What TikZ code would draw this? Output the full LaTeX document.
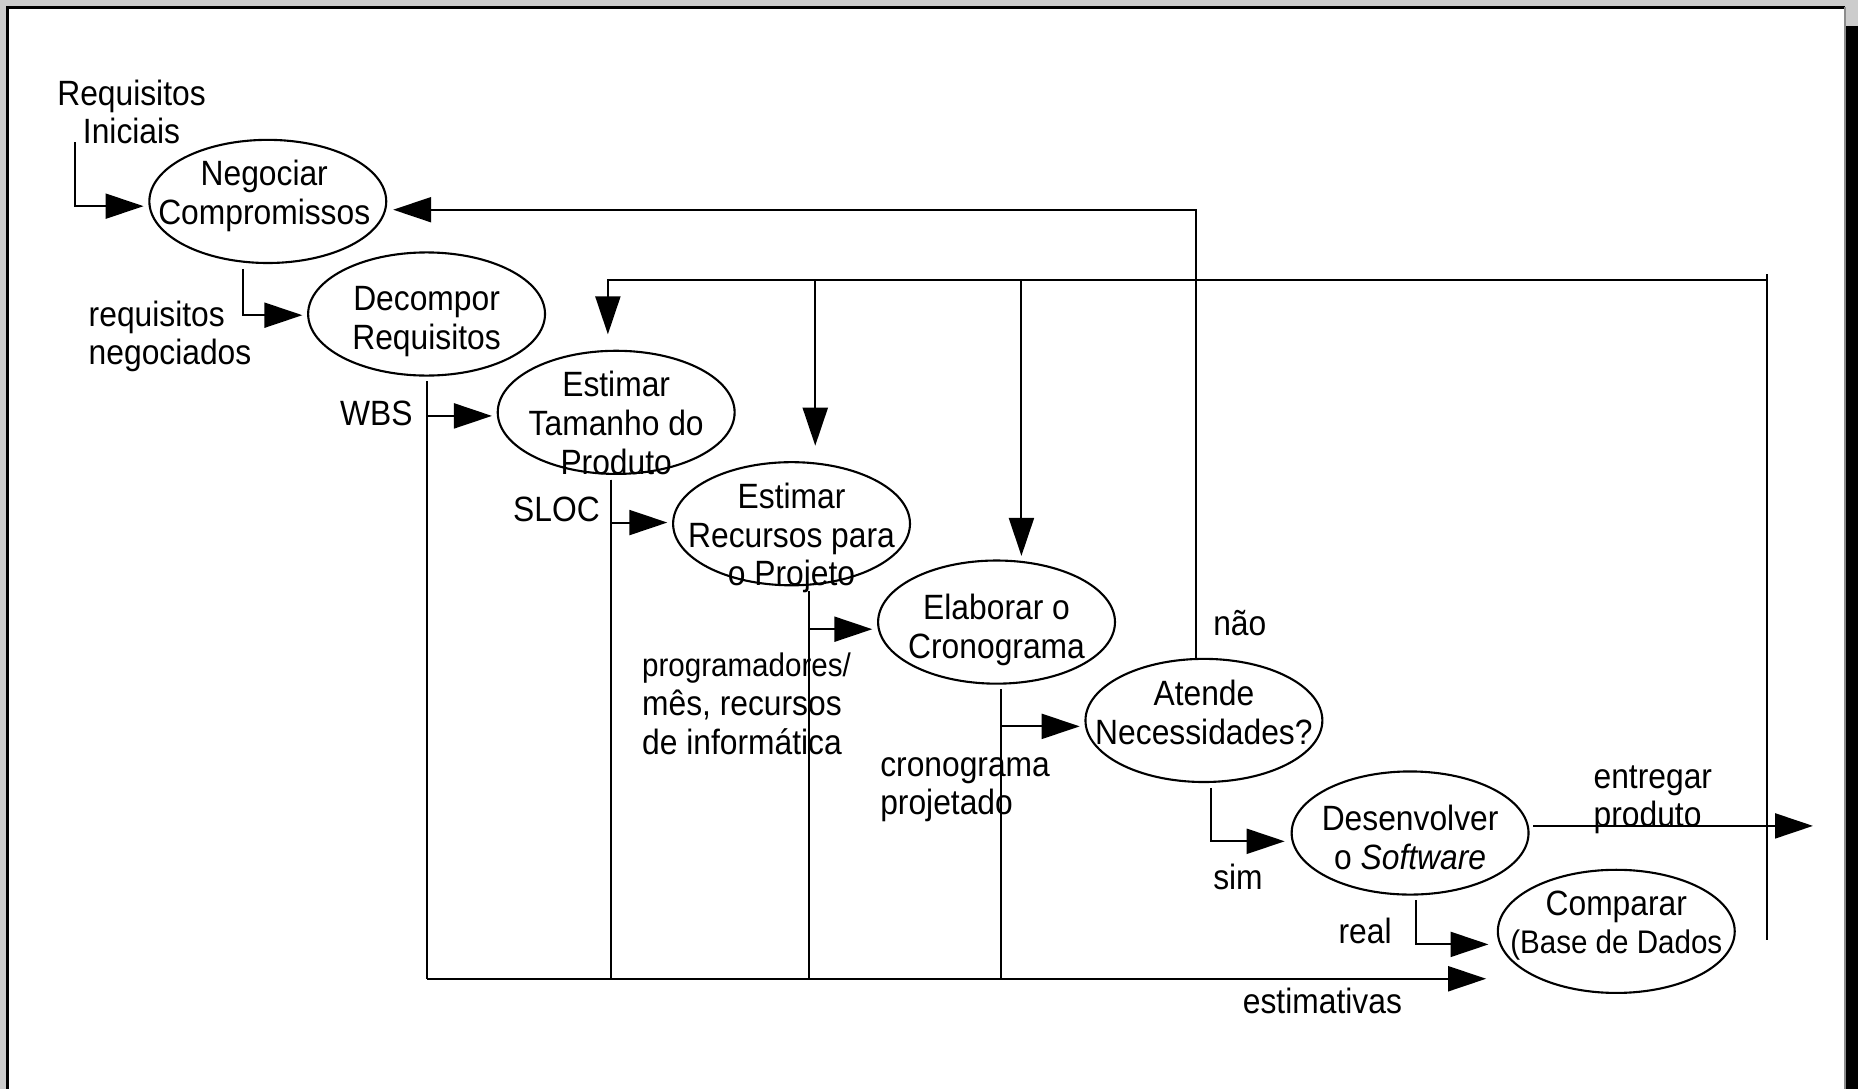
\documentclass[tikz,border=0pt]{standalone}
\usepackage{fontspec}
\setmainfont{Liberation Sans}[FakeStretch=0.905]
\usetikzlibrary{arrows.meta,calc,shapes}
\newcommand{\pxu}{0.01185cm}

\begin{document}
\begin{tikzpicture}[x=\pxu,y=-\pxu,semithick,font=\fontsize{10}{11}\selectfont,
        proc/.style={draw,ellipse,minimum width=2.37cm,minimum height=1.232cm,inner sep=0pt},
        every label/.style={align=center,inner sep=0pt},
        txt/.style={align=left,inner sep=0pt},
        arr/.style={-{Triangle[length=3.8mm,width=2.5mm]}}]
        \useasboundingbox (0,0) rectangle (1568,919);
        % page frame
        \fill[black!20] (0,0) rectangle (1568,919);
        \fill[white] (6,6) rectangle (1557,919);
        \draw[line width=0.8pt] (6.5,919) -- (6.5,6.5) -- (1557,6.5);
        \draw[black!45,line width=0.3pt] (1557,6) -- (1557,919);
        \fill (1558,22) rectangle (1568,919);

        \node[proc,label={[xshift=-3*\pxu,yshift=4.5*\pxu]center:Negociar\\Compromissos}] (Negociar) at (226,170) {};
        \node[proc,label={[yshift=-6.5*\pxu]center:Decompor\\Requisitos}] (Decompor) at (360,265) {};
        \node[proc,label={[yshift=-9*\pxu]center:Estimar\\Tamanho do\\Produto}] (Tamanho) at (520,348) {};
        \node[proc,label={[yshift=-12*\pxu]center:Estimar\\Recursos para\\o Projeto}] (Recursos) at (668,442) {};
        \node[proc,label={[yshift=-6.5*\pxu]center:Elaborar o\\Cronograma}] (Cronograma) at (841,525) {};
        \node[proc,label={[yshift=6.5*\pxu]center:Atende\\Necessidades?}] (Atende) at (1016,608) {};
        \node[proc,label={[yshift=-3.5*\pxu]center:Desenvolver\\o \textit{Software}}] (Desenvolver) at (1190,703) {};
        \node[proc,label={[yshift=5*\pxu]center:Comparar\\{\fontsize{9.3}{11}\selectfont(Base de Dados}}] (Comparar) at (1364,786) {};

        \node[txt,align=center] (lreqini) at (111,94.5) {Requisitos\\Iniciais};
        \node[txt,anchor=west] (lreqneg) at (74,284) {requisitos\\negociados};
        \node[txt,anchor=east] (lwbs) at (349,349) {WBS};
        \node[txt,anchor=east] (lsloc) at (507,430) {SLOC};
        \node[txt,anchor=west] (lprog) at (541,594) {{\fontsize{9.3}{11}\selectfont programadores/}\\mês, recursos\\de informática};
        \node[txt,anchor=west] (lcron) at (742,666.5) {cronograma\\projetado};
        \node[txt,anchor=west] (lnao) at (1023,526) {não};
        \node[txt,anchor=west] (lsim) at (1023,740) {sim};
        \node[txt,anchor=west] (lentr) at (1344,675) {entregar\\produto};
        \node[txt] (lreal) at (1152,786) {real};
        \node[txt] (lest) at (1116,845) {estimativas};

        \coordinate (ini) at (63,120);
        \coordinate (est) at (360,826);
        \coordinate (fb) at (1491,793);
        \coordinate (fbtop) at (1491,236);
        \coordinate (out) at (1530,697);

        \draw[arr] (ini) |- ($(Negociar.west)+(-4,4)$);
        \draw[arr] ($(Negociar.south)+(-21,4)$) |- ($(Decompor.west)+(-4,1)$);
        \foreach \a/\b/\dx/\dy in {Decompor/Tamanho/0/3,Tamanho/Recursos/-4/-1,Recursos/Cronograma/15/6,Cronograma/Atende/4/5}{
            \draw[arr] ($(\a.south)+(\dx,4)$) coordinate (s) |- ($(\b.west)+(-4,\dy)$);
            \draw (s) -- (s |- est);
        }
        \draw[arr] (est) -- ($(Comparar.west)+(-9,40)$);
        \draw[arr] ($(Atende.north)+(-7,0)$) |- ($(Negociar.east)+(5,7)$);
        \draw[arr] ($(Atende.south)+(6,4)$) |- ($(Desenvolver.west)+(-5,7)$);
        \draw[arr] ($(Desenvolver.east)+(3,-6)$) -- (out);
        \draw[arr] ($(Desenvolver.south)+(5,4)$) |- ($(Comparar.west)+(-7,11)$);
        % feedback to the estimates
        \draw (fb) -- ++(0,-562);
        \draw[arr] (fbtop) -| ($(Tamanho.north)+(-7,-13)$);
        \foreach \n/\dx/\dy in {Recursos/20/-13,Cronograma/21/-3}{
            \path ($(\n.north)+(\dx,\dy)$) coordinate (tip);
            \draw[arr] (tip |- fbtop) -- (tip);
        }
\end{tikzpicture}
\end{document}
